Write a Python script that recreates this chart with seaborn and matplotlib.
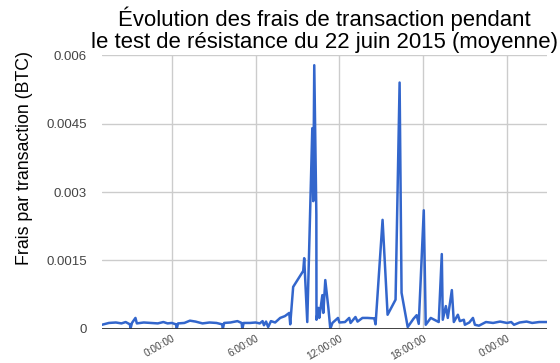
import pandas as pd
import numpy as np
import matplotlib
matplotlib.use("Agg")
import matplotlib.pyplot as plt
import seaborn as sns

# ---------- DATA ----------
# hours relative to 22 June 2015 0:00
hours = [
    -5.0, -4.5, -4.0, -3.6, -3.3, -3.0, -2.95, -2.85, -2.6, -2.5,
    -2.0, -1.5, -1.0, -0.6, -0.3, 0.0, 0.3, 0.36, 0.45, 0.9,
    1.3, 1.7, 2.2, 2.7, 3.2, 3.6, 3.66, 3.75, 4.2, 4.7,
    5.0, 5.05, 5.15, 5.6, 6.0, 6.3, 6.5, 6.6, 6.75, 6.9,
    7.1, 7.4, 7.76, 8.1, 8.41, 8.48, 8.69, 9.41, 9.48, 9.7,
    10.06, 10.13, 10.2, 10.35, 10.36, 10.49, 10.56, 10.78, 10.85, 10.99,
    11.21, 11.35, 11.5, 11.9, 12.0, 12.4, 12.7, 12.8, 13.15, 13.3,
    13.65, 14.0, 14.5, 14.59, 15.09, 15.45, 16.02, 16.31, 16.45, 16.89,
    17.3, 17.53, 17.68, 18.04, 18.18, 18.54, 19.11, 19.33, 19.40, 19.62,
    19.76, 20.05, 20.19, 20.48, 20.62, 20.91, 20.98, 21.3, 21.56, 21.70,
    21.99, 22.49, 23.0, 23.5, 24.0, 24.3, 24.5, 24.9, 25.4, 25.8,
    26.3, 26.87,
]
fees = [
    0.00009, 0.00013, 0.00014, 0.00012, 0.00015, 0.00010, 0.00001, 0.00013, 0.00024, 0.00012,
    0.00014, 0.00013, 0.00012, 0.00015, 0.00012, 0.00013, 0.00010, 0.00001, 0.00012, 0.00013,
    0.00018, 0.00016, 0.00012, 0.00014, 0.00013, 0.00010, 0.00001, 0.00013, 0.00014, 0.00017,
    0.00013, 0.00000, 0.00013, 0.00013, 0.00014, 0.00012, 0.00017, 0.00008, 0.00016, 0.00004,
    0.00017, 0.00014, 0.00024, 0.00028, 0.00035, 0.00010, 0.00092, 0.00127, 0.00155, 0.00015,
    0.00440, 0.00280, 0.00578, 0.00250, 0.00020, 0.00046, 0.00024, 0.00074, 0.00035, 0.00107,
    0.00046, 0.00000, 0.00013, 0.00024, 0.00014, 0.00015, 0.00024, 0.00013, 0.00026, 0.00016,
    0.00024, 0.00024, 0.00023, 0.00010, 0.00239, 0.00031, 0.00064, 0.00540, 0.00079, 0.00004,
    0.00022, 0.00030, 0.00011, 0.00260, 0.00009, 0.00024, 0.00015, 0.00164, 0.00020, 0.00050,
    0.00024, 0.00085, 0.00015, 0.00031, 0.00017, 0.00020, 0.00009, 0.00014, 0.00024, 0.00009,
    0.00007, 0.00015, 0.00013, 0.00016, 0.00013, 0.00015, 0.00009, 0.00014, 0.00016, 0.00013,
    0.00015, 0.00015,
]

y_ticks = [0, 0.0015, 0.003, 0.0045, 0.006]
y_tick_labels = ["0", "0.0015", "0.003", "0.0045", "0.006"]
x_ticks = [0, 6, 12, 18, 24]
x_tick_labels = ["0:00:00", "6:00:00", "12:00:00", "18:00:00", "0:00:00"]

df = pd.DataFrame({"heure": hours, "frais": fees})

# ---------- PLOT ----------
sns.set_theme(style="white")
plt.rcParams['font.family'] = ['Liberation Sans', 'DejaVu Sans']

fig = plt.figure(figsize=(5.6, 3.63), dpi=100)
ax = fig.add_axes([0.182, 0.094, 0.795, 0.754])

sns.lineplot(data=df, x="heure", y="frais", ax=ax, color="#3366cc", linewidth=1.8)

ax.set_xlim(hours[0], hours[-1])
ax.set_ylim(0, 0.006)
ax.set_yticks(y_ticks)
ax.set_yticklabels(y_tick_labels)
ax.set_xticks(x_ticks)
ax.set_xticklabels(x_tick_labels, rotation=30, ha="right", va="top",
                   rotation_mode="anchor")
ax.tick_params(axis="y", length=0, pad=11, labelsize=9.5, labelcolor="#444444")
ax.tick_params(axis="x", length=0, pad=3.5, labelsize=7.3, labelcolor="#444444")

ax.grid(True, color="#cccccc", linewidth=1)
ax.set_axisbelow(True)
for s in ax.spines.values():
    s.set_visible(False)
ax.axhline(0, color="#333333", linewidth=1.3, zorder=3)

ax.set_xlabel("")
ax.set_ylabel("")
fig.text(25 / 560, 1 - 158 / 363, "Frais par transaction (BTC)", rotation=90,
         ha="center", va="center", fontsize=12.8, color="black")

fig.text(324 / 560, 1 - 30 / 363,
         "Évolution des frais de transaction pendant\nle test de résistance du 22 juin 2015 (moyenne)",
         ha="center", va="center", fontsize=15.9, color="black", linespacing=1.08)

fig.savefig("out.png", dpi=100)
